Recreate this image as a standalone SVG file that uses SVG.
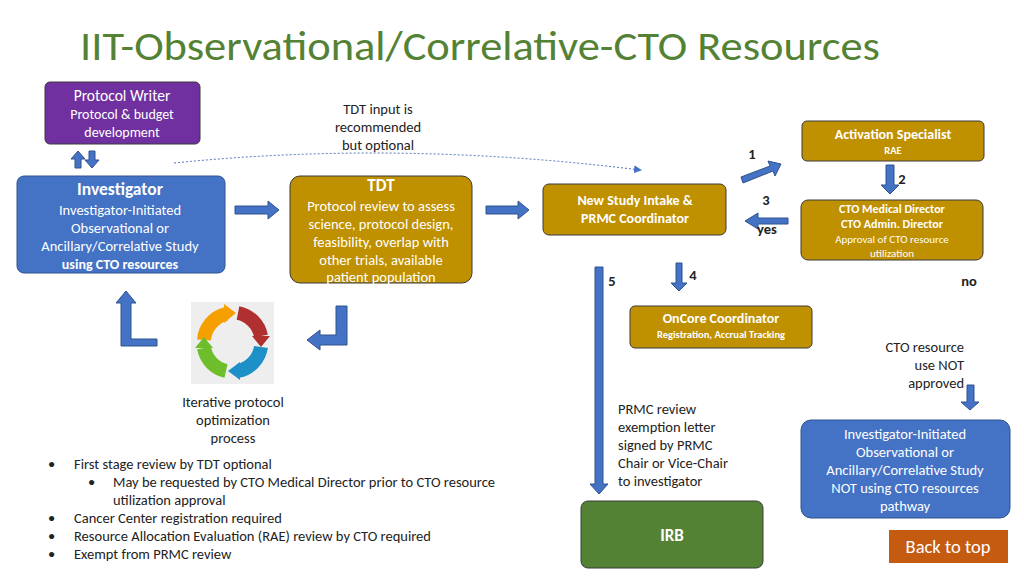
<svg xmlns="http://www.w3.org/2000/svg" width="1024" height="576" viewBox="0 0 1024 576">
<style>
text{font-family:Carlito,Calibri,"Liberation Sans",sans-serif;}
.w{fill:#fff;text-anchor:middle}
.k{fill:#222;text-anchor:middle;font-size:14.5px}
.gold{fill:#BF9000;stroke:#3a3a3a;stroke-width:1}
.blu{fill:#4472C4;stroke:#2F528F;stroke-width:1}
.ba{fill:#4472C4;stroke:#2F528F;stroke-width:1}
.b{font-weight:bold}
</style>
<defs>
<marker id="tri" markerWidth="8" markerHeight="8" refX="6" refY="4" orient="auto" markerUnits="userSpaceOnUse"><path d="M0,0 L8,4 L0,8 z" fill="#4472C4"/></marker>
</defs>
<rect width="1024" height="576" fill="#fff"/>
<text x="80" y="60" font-size="42" fill="#548235" textLength="800" lengthAdjust="spacingAndGlyphs">IIT-Observational/Correlative-CTO Resources</text>

<g id="protocol-writer">
<rect x="45" y="82" width="155" height="62" rx="5" fill="#7030A0" stroke="#3a3a3a"/>
<text class="w" x="122" y="101" font-size="15.5">Protocol Writer</text>
<text class="w" x="122" y="119" font-size="14">Protocol &amp; budget</text>
<text class="w" x="122" y="137" font-size="14">development</text>
</g>
<g id="investigator">
<rect x="17" y="176" width="208" height="97" rx="7" class="blu"/>
<text class="w b" x="120" y="195" font-size="17.5">Investigator</text>
<text class="w" x="120" y="215" font-size="14.5">Investigator-Initiated</text>
<text class="w" x="120" y="233" font-size="14.5">Observational or</text>
<text class="w" x="120" y="251" font-size="14.5">Ancillary/Correlative Study</text>
<text class="w b" x="120" y="269" font-size="14">using CTO resources</text>
</g>
<g id="tdt">
<rect x="290" y="176" width="182" height="107" rx="10" class="gold"/>
<text class="w b" x="381" y="191" font-size="17">TDT</text>
<text class="w" x="381" y="211" font-size="14.5">Protocol review to assess</text>
<text class="w" x="381" y="229" font-size="14.5">science, protocol design,</text>
<text class="w" x="381" y="247" font-size="14.5">feasibility, overlap with</text>
<text class="w" x="381" y="265" font-size="14.5">other trials, available</text>
<text class="w" x="381" y="282" font-size="14.5">patient population</text>
</g>
<g id="intake">
<rect x="543" y="184" width="183" height="51" rx="6" class="gold"/>
<text class="w b" x="635" y="205" font-size="14">New Study Intake &amp;</text>
<text class="w b" x="635" y="223" font-size="14">PRMC Coordinator</text>
</g>
<g id="activation">
<rect x="802" y="121" width="182" height="40" rx="5" class="gold"/>
<text class="w b" x="893" y="139" font-size="14">Activation Specialist</text>
<text class="w b" x="893" y="154" font-size="10.5">RAE</text>
</g>
<g id="cto-director">
<rect x="801" y="200" width="182" height="60" rx="7" class="gold"/>
<text class="w b" x="892" y="213" font-size="12">CTO Medical Director</text>
<text class="w b" x="892" y="228" font-size="12">CTO Admin. Director</text>
<text class="w" x="892" y="243" font-size="11">Approval of CTO resource</text>
<text class="w" x="892" y="257" font-size="11">utilization</text>
</g>
<g id="oncore">
<rect x="630" y="306" width="182" height="42" rx="5" class="gold"/>
<text class="w b" x="721" y="323" font-size="14">OnCore Coordinator</text>
<text class="w b" x="721" y="338" font-size="10.5">Registration, Accrual Tracking</text>
</g>
<g id="irb">
<rect x="581" y="501" width="182" height="67" rx="7" fill="#548235" stroke="#3a3a3a"/>
<text class="w b" x="672" y="541" font-size="17">IRB</text>
</g>
<g id="not-using">
<rect x="801" y="420" width="209" height="98" rx="10" class="blu"/>
<text class="w" x="905" y="439" font-size="14.5">Investigator-Initiated</text>
<text class="w" x="905" y="457" font-size="14.5">Observational or</text>
<text class="w" x="905" y="475" font-size="14.5">Ancillary/Correlative Study</text>
<text class="w" x="905" y="493" font-size="14.5">NOT using CTO resources</text>
<text class="w" x="905" y="511" font-size="14.5">pathway</text>
</g>
<g id="back-to-top">
<rect x="889" y="530" width="119" height="33" fill="#C55A11"/>
<text class="w" x="948" y="553" font-size="18.5">Back to top</text>
</g>
<g id="cycle-icon">
<rect x="191" y="302" width="83" height="82" fill="#eeeeee"/>
<g fill="none" stroke-width="14">
<path d="M204,340 A29,29 0 0 1 226,314" stroke="#F5A000"/>
<path d="M238,313 A29,29 0 0 1 261,336" stroke="#B03030"/>
<path d="M261,347 A29,29 0 0 1 238,371" stroke="#1E90C8"/>
<path d="M226,371 A29,29 0 0 1 204,348" stroke="#6DBE2A"/>
</g>
<polygon points="224,304 236,313 224,323" fill="#F5A000"/>
<polygon points="252,336 270,336 261,347" fill="#B03030"/>
<polygon points="240,362 240,380 228,371" fill="#1E90C8"/>
<polygon points="195,348 213,348 204,337" fill="#6DBE2A"/>
</g>

<g id="connectors">
<polygon class="ba" points="75,168 75,159 71,159 78,151 85,159 81,159 81,168"/>
<polygon class="ba" points="89,151 89,160 85,160 92,168 99,160 95,160 95,151"/>
<polygon class="ba" points="235,206 268,206 268,201 279,210 268,219 268,214 235,214"/>
<polygon class="ba" points="486,206 518,206 518,201 529,210 518,219 518,214 486,214"/>
<polygon class="ba" points="741,177 770,166 768,161 781,164 775,176 773,171 743,183"/>
<polygon class="ba" points="886,165 894,165 894,185 899,185 890,194 881,185 886,185"/>
<polygon class="ba" points="788,218 788,224 758,224 758,229 745,221 758,213 758,218"/>
<polygon class="ba" points="676,263 682,263 682,283 687,283 679,291 671,283 676,283"/>
<polygon class="ba" points="595,267 603,267 603,484 608,484 599,494 590,484 595,484"/>
<polygon class="ba" points="967,385 974,385 974,402 979,402 970,410 961,402 967,402"/>
<polygon class="ba" points="133,346 157,346 157,339 131,339 131,303 136,303 126,291 116,303 121,303 121,346"/>
<polygon class="ba" points="341,306 347,306 347,345 320,345 320,350 307,340 320,330 320,335 336,335 336,306"/>
<path d="M174,163 Q400,140 640,170" fill="none" stroke="#4472C4" stroke-width="1" stroke-dasharray="2,2" marker-end="url(#tri)"/>
</g>

<text class="k" x="378" y="114">TDT input is</text>
<text class="k" x="378" y="132">recommended</text>
<text class="k" x="378" y="150">but optional</text>
<text class="k b" x="752" y="159" font-size="13">1</text>
<text class="k b" x="902" y="184" font-size="13">2</text>
<text class="k b" x="766" y="205" font-size="13">3</text>
<text class="k b" x="767" y="234" font-size="13">yes</text>
<text class="k b" x="693" y="280" font-size="13">4</text>
<text class="k b" x="612" y="286" font-size="13">5</text>
<text class="k b" x="969" y="286" font-size="13">no</text>
<g font-size="14.5" fill="#222" text-anchor="end">
<text x="964" y="352">CTO resource</text>
<text x="964" y="370">use NOT</text>
<text x="964" y="388">approved</text>
</g>
<text class="k" x="233" y="407">Iterative protocol</text>
<text class="k" x="233" y="425">optimization</text>
<text class="k" x="233" y="443">process</text>
<g font-size="14.5" fill="#222">
<text x="618" y="414">PRMC review</text>
<text x="618" y="432">exemption letter</text>
<text x="618" y="450">signed by PRMC</text>
<text x="618" y="468">Chair or Vice-Chair</text>
<text x="618" y="486">to investigator</text>
<text x="48" y="469">•</text><text x="74" y="469">First stage review by TDT optional</text>
<text x="88" y="487">•</text><text x="113" y="487">May be requested by CTO Medical Director prior to CTO resource</text>
<text x="113" y="505">utilization approval</text>
<text x="48" y="523">•</text><text x="74" y="523">Cancer Center registration required</text>
<text x="48" y="541">•</text><text x="74" y="541">Resource Allocation Evaluation (RAE) review by CTO required</text>
<text x="48" y="559">•</text><text x="74" y="559">Exempt from PRMC review</text>
</g>
</svg>
